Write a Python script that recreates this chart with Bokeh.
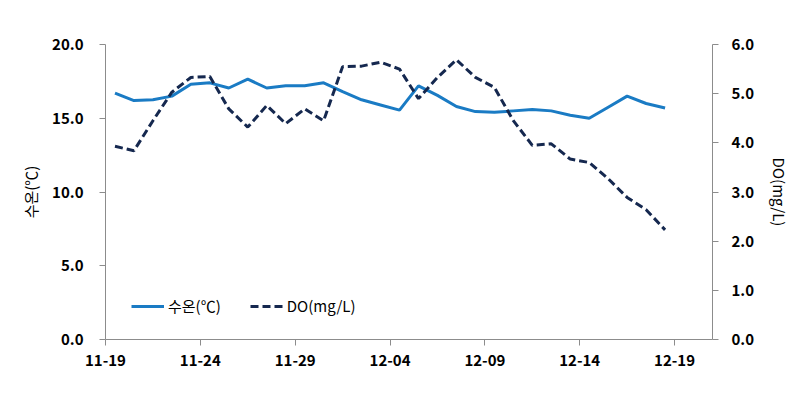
from bokeh.plotting import figure
from bokeh.models import Range1d, LinearAxis, FixedTicker, NumeralTickFormatter, Legend, LegendItem
from bokeh.embed import file_html
from bokeh.resources import INLINE

# ---- data ----
dates = ["11-19", "11-20", "11-21", "11-22", "11-23", "11-24", "11-25", "11-26", "11-27", "11-28",
         "11-29", "11-30", "12-01", "12-02", "12-03", "12-04", "12-05", "12-06", "12-07", "12-08",
         "12-09", "12-10", "12-11", "12-12", "12-13", "12-14", "12-15", "12-16", "12-17", "12-18"]
temp = [16.7, 16.2, 16.25, 16.5, 17.3, 17.4, 17.05, 17.65, 17.05, 17.2,
        17.2, 17.4, 16.8, 16.25, 15.9, 15.55, 17.2, 16.55, 15.8, 15.45,
        15.4, 15.5, 15.6, 15.5, 15.2, 15.0, 15.75, 16.5, 16.0, 15.7]
do = [3.93, 3.84, 4.45, 5.03, 5.33, 5.35, 4.69, 4.32, 4.76, 4.39,
      4.69, 4.45, 5.55, 5.56, 5.64, 5.5, 4.9, 5.33, 5.69, 5.33,
      5.13, 4.45, 3.95, 3.98, 3.67, 3.6, 3.27, 2.89, 2.64, 2.23]
x_tick_labels = ["11-19", "11-24", "11-29", "12-04", "12-09", "12-14", "12-19"]
temp_ticks = [0, 5, 10, 15, 20]
do_ticks = [0, 1, 2, 3, 4, 5, 6]

FONT = "Noto Sans CJK KR"
BLUE = "#1A7BC4"
NAVY = "#15284F"

day_idx = list(range(len(dates)))
tick_pos = [k * 5 - 0.5 for k in range(len(x_tick_labels))]

p = figure(width=794, height=392, frame_width=607, frame_height=295,
           output_backend="svg", toolbar_location=None,
           x_range=Range1d(-0.5, 31.5), y_range=Range1d(0, 20),
           min_border_left=105, min_border_right=82, min_border_top=44, min_border_bottom=53)
p.outline_line_color = None
p.xgrid.visible = False
p.ygrid.visible = False
p.extra_y_ranges = {"do": Range1d(0, 6)}

r1 = p.line(day_idx, temp, line_color=BLUE, line_width=3)
r2 = p.line(day_idx, do, line_color=NAVY, line_width=3, line_dash="8 4", y_range_name="do")

def style(ax):
    ax.axis_line_color = "#8C8C8C"
    ax.major_tick_line_color = "#8C8C8C"
    ax.minor_tick_line_color = None
    ax.major_tick_in = 0
    ax.major_tick_out = 6
    ax.major_label_text_font = FONT
    ax.major_label_text_font_style = "bold"
    ax.major_label_text_font_size = "15px"
    ax.major_label_text_color = "#000000"
    ax.axis_label_text_font = FONT
    ax.axis_label_text_font_style = "normal"
    ax.axis_label_text_font_size = "15px"
    ax.axis_label_text_color = "#000000"

# x axis
xa = p.xaxis[0]
style(xa)
xa.ticker = FixedTicker(ticks=tick_pos)
xa.major_label_overrides = {t: lab for t, lab in zip(tick_pos, x_tick_labels)}
xa.major_label_standoff = 9

# left axis
ya = p.yaxis[0]
style(ya)
ya.ticker = FixedTicker(ticks=temp_ticks)
ya.formatter = NumeralTickFormatter(format="0.0")
ya.axis_label = "수온(℃)"
ya.major_label_standoff = 16
ya.axis_label_standoff = 8

# right axis
ra = LinearAxis(y_range_name="do")
style(ra)
ra.ticker = FixedTicker(ticks=do_ticks)
ra.formatter = NumeralTickFormatter(format="0.0")
ra.axis_label = "DO(mg/L)"
ra.major_label_standoff = 13
ra.axis_label_standoff = 12
p.add_layout(ra, "right")

legend = Legend(items=[LegendItem(label="수온(℃)", renderers=[r1]),
                       LegendItem(label="DO(mg/L)", renderers=[r2])],
                orientation="horizontal", location=(26, 23))
legend.border_line_color = None
legend.background_fill_alpha = 0
legend.padding = 5
legend.margin = 0
legend.spacing = 29
legend.glyph_width = 33
legend.label_standoff = 4
legend.label_text_font = FONT
legend.label_text_font_size = "15px"
legend.label_text_color = "#000000"
p.add_layout(legend, "center")

open("out.html", "w").write(file_html(p, INLINE))
